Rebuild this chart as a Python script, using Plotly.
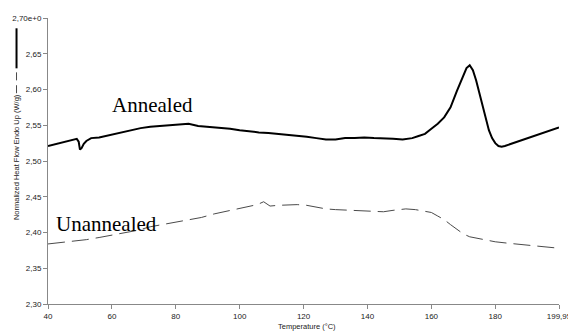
import plotly.graph_objects as go

# ---- data ----
annealed_temp = [40, 42, 44, 46, 48, 49, 49.6, 50.0, 50.5, 51.2, 52, 53.5, 56, 59, 62, 65, 69, 72, 75, 78,
                 81, 84, 87, 90, 94, 97, 100, 103, 106, 109, 112, 115, 118, 121, 124, 127, 130, 133, 136,
                 139, 142, 145, 148, 151, 154, 156, 158, 160, 162, 164, 166, 168, 170, 171, 172, 173, 174,
                 175, 176, 177, 178, 179, 180, 181, 182, 183, 185, 187, 189, 191, 193, 195, 197, 199.95]
annealed_val = [2.521, 2.523, 2.526, 2.527, 2.529, 2.531, 2.527, 2.516, 2.518, 2.524, 2.528, 2.532, 2.533,
                2.536, 2.540, 2.543, 2.546, 2.548, 2.549, 2.551, 2.552, 2.552, 2.549, 2.548, 2.546, 2.545,
                2.543, 2.541, 2.540, 2.539, 2.538, 2.536, 2.535, 2.534, 2.532, 2.530, 2.530, 2.532, 2.532,
                2.533, 2.532, 2.532, 2.531, 2.530, 2.532, 2.535, 2.538, 2.545, 2.552, 2.561, 2.575, 2.598,
                2.621, 2.630, 2.634, 2.627, 2.613, 2.596, 2.578, 2.560, 2.543, 2.532, 2.525, 2.521, 2.520,
                2.521, 2.524, 2.527, 2.531, 2.533, 2.536, 2.539, 2.542, 2.547]

unannealed_temp = [40, 44, 48, 52, 56, 60, 64, 68, 72, 76, 80, 84, 88, 92, 96, 100, 103, 105.5, 107.5,
                   109.5, 112, 115, 118, 121, 124, 127, 130, 134, 138, 142, 145, 148, 152, 155, 157.5,
                   160, 162, 164, 166, 168, 170, 172, 174, 177, 180, 184, 188, 192, 196, 199.95]
unannealed_val = [2.384, 2.386, 2.387, 2.390, 2.393, 2.396, 2.399, 2.403, 2.408, 2.411, 2.414, 2.417,
                  2.421, 2.426, 2.430, 2.433, 2.436, 2.439, 2.443, 2.437, 2.438, 2.439, 2.439, 2.438,
                  2.435, 2.433, 2.432, 2.431, 2.430, 2.430, 2.429, 2.431, 2.433, 2.432, 2.430, 2.428,
                  2.423, 2.418, 2.411, 2.404, 2.398, 2.394, 2.392, 2.389, 2.387, 2.385, 2.383, 2.381,
                  2.380, 2.378]

x_tickvals = [40, 60, 80, 100, 120, 140, 160, 180, 199.95]
x_ticktext = ["40", "60", "80", "100", "120", "140", "160", "180", "199,95"]
y_tickvals = [2.30, 2.35, 2.40, 2.45, 2.50, 2.55, 2.60, 2.65, 2.70]
y_ticktext = ["2,30", "2,35", "2,40", "2,45", "2,50", "2,55", "2,60", "2,65", "2,70e+0"]

series_names = ["Annealed", "Unannealed"]
label_pos = [(59.5, 2.578), (41.8, 2.4125)]

# ---- figure ----
fig = go.Figure()
fig.add_trace(go.Scatter(x=unannealed_temp, y=unannealed_val, mode="lines", name=series_names[1],
                         line=dict(color="#4a4a4a", width=1, dash="17px,7px")))
fig.add_trace(go.Scatter(x=annealed_temp, y=annealed_val, mode="lines", name=series_names[0],
                         line=dict(color="black", width=2)))

for name, (lx, ly) in zip(series_names, label_pos):
    fig.add_annotation(x=lx, y=ly, xref="x", yref="y", text=name, showarrow=False,
                       xanchor="left", yanchor="middle",
                       font=dict(family="Liberation Serif, Times New Roman, serif", size=21, color="black"))

tick_font = dict(family="Liberation Sans, Arial, sans-serif", size=8, color="#222222")

fig.update_xaxes(range=[40, 199.95], tickvals=x_tickvals, ticktext=x_ticktext, showgrid=False,
                 zeroline=False, showline=True, linecolor="#888888", linewidth=1, ticks="outside",
                 ticklen=4, tickcolor="#888888", tickfont=tick_font, automargin=False,
                 ticklabeloverflow="allow")
fig.update_yaxes(range=[2.30, 2.70], tickvals=y_tickvals, ticktext=y_ticktext, showgrid=False,
                 zeroline=False, showline=True, linecolor="#888888", linewidth=1, ticks="outside",
                 ticklen=4, tickcolor="#888888", tickfont=tick_font, automargin=False,
                 ticklabeloverflow="allow")

# axis titles as annotations (Excel-like placement)
fig.add_annotation(x=0.507, y=-0.077, xref="paper", yref="paper", text="Temperature (°C)",
                   showarrow=False, xanchor="center", yanchor="middle",
                   font=dict(family="Liberation Sans, Arial, sans-serif", size=7.5, color="#222222"))
fig.add_annotation(x=-0.0616, y=0.512, xref="paper", yref="paper",
                   text="Normalized Heat Flow Endo Up (W/g)", textangle=-90, showarrow=False,
                   xanchor="center", yanchor="middle",
                   font=dict(family="Liberation Sans, Arial, sans-serif", size=7.5, color="#222222"))

# small series key next to the y-axis title
fig.add_shape(type="line", xref="paper", yref="paper", x0=-0.0616, x1=-0.0616, y0=0.824, y1=0.964,
              line=dict(color="black", width=2))
fig.add_shape(type="line", xref="paper", yref="paper", x0=-0.0616, x1=-0.0616, y0=0.782, y1=0.810,
              line=dict(color="#4a4a4a", width=1))
fig.add_shape(type="line", xref="paper", yref="paper", x0=-0.0616, x1=-0.0616, y0=0.737, y1=0.765,
              line=dict(color="#4a4a4a", width=1))

fig.update_layout(width=568, height=331, showlegend=False,
                  margin=dict(l=47.5, r=9, t=17.7, b=26.7, autoexpand=False),
                  plot_bgcolor="white", paper_bgcolor="white")

fig.write_html("out.html",
               config={"displayModeBar": False},
               post_script="document.body.style.margin='0';document.body.style.overflow='hidden';")
